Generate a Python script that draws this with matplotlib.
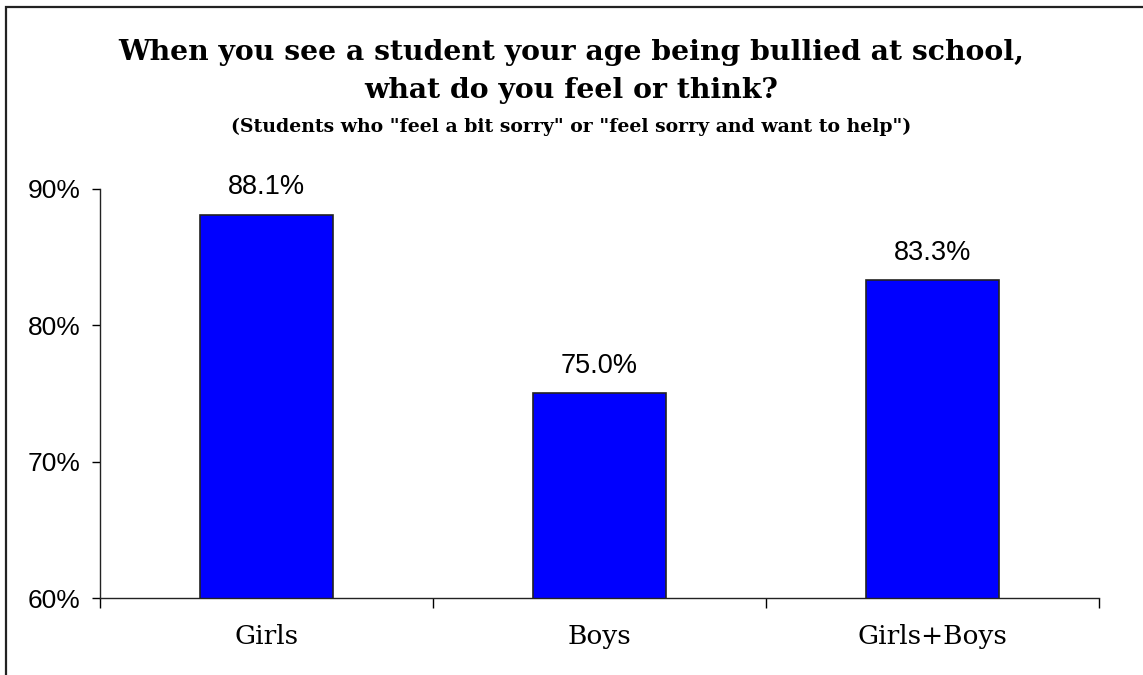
import matplotlib.pyplot as plt
import matplotlib.patches as patches
from matplotlib.ticker import FuncFormatter

# data
categories = ["Girls", "Boys", "Girls+Boys"]
values = [88.1, 75.0, 83.3]
yticks = [60, 70, 80, 90]

serif = ["DejaVu Serif"]
sans = ["Liberation Sans", "DejaVu Sans"]

fig = plt.figure(figsize=(11.43, 6.75), dpi=100)
fig.patch.set_facecolor("white")

# outer frame (only left and top edge visible in the picture)
frame = patches.Rectangle((5.5 / 1143, -0.2), 1.5, 1.2 - 6.5 / 675,
                          transform=fig.transFigure, fill=False,
                          edgecolor="#222222", linewidth=1.6)
fig.patches.append(frame)

ax = fig.add_axes([100 / 1143, 77 / 675, 999 / 1143, 409 / 675])

x = list(range(len(categories)))
bars = ax.bar(x, values, width=0.4, color="#0000ff", edgecolor="#222222",
              linewidth=1.2, bottom=0)
ax.set_ylim(60, 90)
ax.set_xlim(-0.5, len(categories) - 0.5)

for b, v in zip(bars, values):
    ax.annotate("%.1f%%" % v, (b.get_x() + b.get_width() / 2, v),
                xytext=(0, 20), textcoords="offset points",
                ha="center", va="center", fontsize=19.5, family=sans)

ax.set_yticks(yticks)
ax.yaxis.set_major_formatter(FuncFormatter(lambda v, p: "%d%%" % v))
for lab in ax.get_yticklabels():
    lab.set_family(sans)
    lab.set_fontsize(19)
ax.tick_params(axis="y", direction="out", length=6, width=1, pad=8)

# category boundaries carry the x ticks, labels sit at the centres
ax.set_xticks([i - 0.5 for i in range(len(categories) + 1)])
ax.set_xticklabels([])
ax.set_xticks(x, minor=True)
ax.set_xticklabels(categories, minor=True, family=serif, fontsize=19)
ax.tick_params(axis="x", which="major", direction="out", length=7, width=1)
ax.tick_params(axis="x", which="minor", length=0, pad=19)

for s in ["top", "right"]:
    ax.spines[s].set_visible(False)
for s in ["left", "bottom"]:
    ax.spines[s].set_linewidth(1)
    ax.spines[s].set_color("#222222")

fig.text(0.5, 1 - 52 / 675,
         "When you see a student your age being bullied at school,",
         ha="center", va="center", fontsize=20.3, fontweight="bold", family=serif)
fig.text(0.5, 1 - 90 / 675, "what do you feel or think?",
         ha="center", va="center", fontsize=20.3, fontweight="bold", family=serif)
fig.text(0.5, 1 - 127 / 675,
         '(Students who "feel a bit sorry" or "feel sorry and want to help")',
         ha="center", va="center", fontsize=13.6, fontweight="bold", family=serif)

fig.savefig("out.png", dpi=100, facecolor="white")
